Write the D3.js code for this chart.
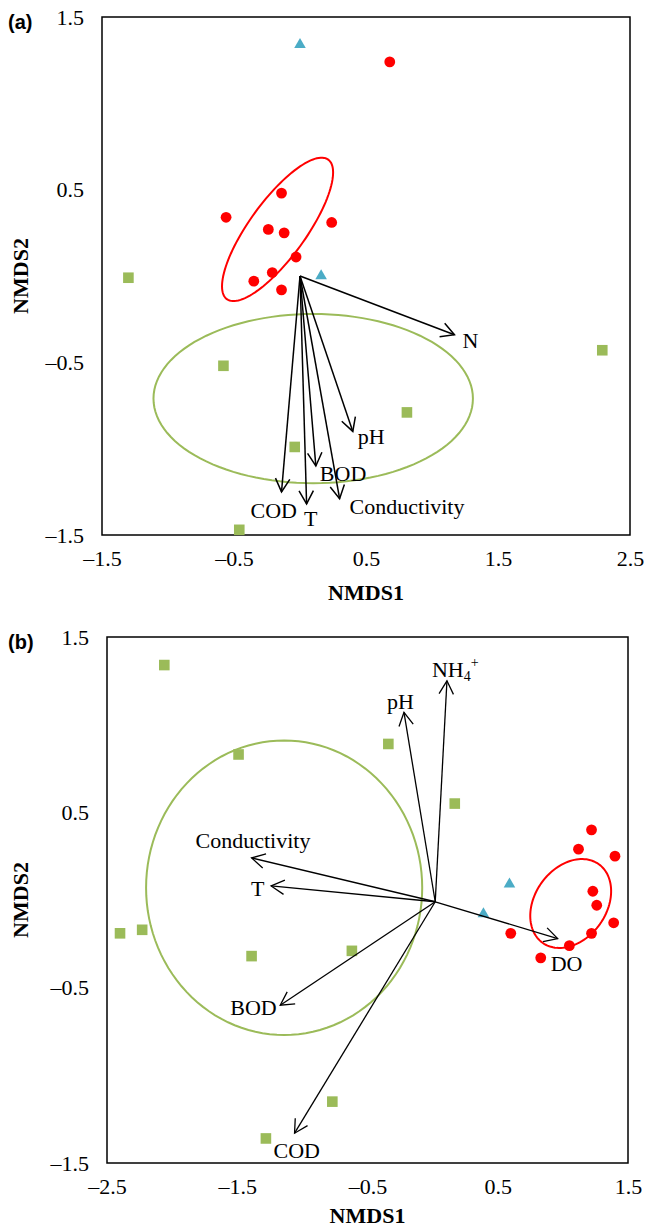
<!DOCTYPE html>
<html>
<head>
<meta charset="utf-8">
<script src="https://cdn.jsdelivr.net/npm/d3@7"></script>
<style>
  body { margin: 0; background: #fff; }
  svg text { font-family: "Liberation Serif", "Times New Roman", serif; fill: #000; }
</style>
</head>
<body>
<div id="chart"></div>
<script>
// ---- panel (a) data ----
const aRed   = [[0.68,1.24],[-0.14,0.48],[-0.56,0.34],[-0.24,0.27],[-0.12,0.25],
                [0.24,0.31],[-0.03,0.11],[-0.21,0.02],[-0.35,-0.03],[-0.14,-0.08]];
const aGreen = [[-1.30,-0.01],[-0.58,-0.52],[-0.04,-0.99],[-0.46,-1.47],[0.81,-0.79],[2.29,-0.43]];
const aBlue  = [[0.00,1.34],[0.16,0.00]];
const aVars  = ["N", "pH", "BOD", "Conductivity", "T", "COD"];
const aVecX  = [1.17, 0.40, 0.12, 0.30, 0.05, -0.14];
const aVecY  = [-0.34, -0.90, -1.10, -1.29, -1.32, -1.25];
const aOrigin = [0.0, 0.0];
// ellipses: centre + two semi-axis vectors (data units)
const aRedEllipse   = [-0.17, 0.27, 0.384, 0.404, 0.172, -0.096];
const aGreenEllipse = [0.10, -0.71, 1.21, 0, 0, 0.49];
const aXTicks = [-1.5, -0.5, 0.5, 1.5, 2.5];
const aYTicks = [-1.5, -0.5, 0.5, 1.5];

// ---- panel (b) data ----
const bRed   = [[1.22,0.40],[1.12,0.29],[1.40,0.25],[1.23,0.05],[1.26,-0.03],
                [1.39,-0.13],[1.22,-0.19],[1.05,-0.26],[0.60,-0.19],[0.83,-0.33]];
const bGreen = [[-2.06,1.34],[-1.49,0.83],[-0.34,0.89],[0.17,0.55],[-2.40,-0.19],
                [-2.23,-0.17],[-1.39,-0.32],[-0.62,-0.29],[-0.77,-1.15],[-1.28,-1.36]];
const bBlue  = [[0.59,0.09],[0.39,-0.08]];
const bVars  = ["NH4+", "pH", "Conductivity", "T", "BOD", "COD", "DO"];
const bVecX  = [0.11, -0.22, -1.39, -1.24, -1.17, -1.06, 0.96];
const bVecY  = [1.25, 1.07, 0.24, 0.08, -0.60, -1.33, -0.22];
const bOrigin = [0.02, -0.01];
const bRedEllipse   = [1.06, -0.02, 0.216, 0.224, 0.223, -0.119];
const bGreenEllipse = [-1.14, 0.07, 1.06, 0, 0, 0.84];
const bXTicks = [-2.5, -1.5, -0.5, 0.5, 1.5];
const bYTicks = [-1.5, -0.5, 0.5, 1.5];

// label offsets from arrow tips (px)
const aLabelPos = {"N":[8,13], "pH":[5,12.5], "BOD":[4,15], "Conductivity":[10,15], "T":[-2.5,22], "COD":[-31,26]};
const bLabelPos = {"NH4+":[-15,-4], "pH":[-17,-3], "Conductivity":[-56,-10], "T":[-20,10],
                   "BOD":[-50,10], "COD":[-21,25], "DO":[-7,32]};

const width = 646, height = 1229;
const svg = d3.select("#chart").append("svg")
    .attr("width", width)
    .attr("height", height);

const RED = "#ff0000", GREEN = "#9bbb59", BLUE = "#4bacc6";

function fmt(d) {
    return (d < 0 ? "\u2013" : "") + Math.abs(d).toFixed(1);
}

function drawPanel(p) {
    const x = d3.scaleLinear().domain(p.xDomain).range([p.left, p.right]);
    const y = d3.scaleLinear().domain(p.yDomain).range([p.bottom, p.top]);
    const g = svg.append("g");

    // axes (labels only, no tick marks)
    const xa = g.append("g")
        .attr("transform", `translate(0,${p.bottom})`)
        .call(d3.axisBottom(x).tickValues(p.xTicks).tickSize(0).tickPadding(15).tickFormat(fmt));
    const ya = g.append("g")
        .attr("transform", `translate(${p.left},0)`)
        .call(d3.axisLeft(y).tickValues(p.yTicks).tickSize(0).tickPadding(18).tickFormat(fmt));
    [xa, ya].forEach(a => {
        a.select(".domain").remove();
        a.selectAll("text")
            .attr("fill", "#000")
            .style("font-family", "'Liberation Serif', serif")
            .style("font-size", "22px");
    });

    // frame
    g.append("rect")
        .attr("x", p.left).attr("y", p.top)
        .attr("width", p.right - p.left).attr("height", p.bottom - p.top)
        .attr("fill", "none").attr("stroke", "#000").attr("stroke-width", 1.5);

    // ellipses
    const ellLine = d3.line().x(d => x(d[0])).y(d => y(d[1])).curve(d3.curveLinearClosed);
    function ellipse(e, color) {
        const pts = d3.range(0, 120).map(i => {
            const t = i / 120 * 2 * Math.PI;
            return [e[0] + Math.cos(t) * e[2] + Math.sin(t) * e[4],
                    e[1] + Math.cos(t) * e[3] + Math.sin(t) * e[5]];
        });
        g.append("path").attr("d", ellLine(pts))
            .attr("fill", "none").attr("stroke", color).attr("stroke-width", 2);
    }
    ellipse(p.greenEllipse, GREEN);
    ellipse(p.redEllipse, RED);

    // points
    g.selectAll(".sq").data(p.green).join("rect")
        .attr("x", d => x(d[0]) - 5.3).attr("y", d => y(d[1]) - 5.3)
        .attr("width", 10.6).attr("height", 10.6)
        .attr("fill", GREEN);
    g.selectAll(".dot").data(p.red).join("circle")
        .attr("cx", d => x(d[0])).attr("cy", d => y(d[1])).attr("r", 5.4)
        .attr("fill", RED);
    g.selectAll(".tri").data(p.blue).join("path")
        .attr("d", d3.symbol().type(d3.symbolTriangle).size(58))
        .attr("transform", d => `translate(${x(d[0])},${y(d[1])})`)
        .attr("fill", BLUE);

    // arrows
    const ox = x(p.origin[0]), oy = y(p.origin[1]);
    p.vars.forEach((v, i) => {
        const tx = x(p.vecX[i]), ty = y(p.vecY[i]);
        const ang = Math.atan2(ty - oy, tx - ox);
        const hl = 15, ha = 0.5;
        g.append("line")
            .attr("x1", ox).attr("y1", oy).attr("x2", tx).attr("y2", ty)
            .attr("stroke", "#000").attr("stroke-width", p.arrowWidth);
        g.append("path")
            .attr("d", `M${tx - hl * Math.cos(ang - ha)},${ty - hl * Math.sin(ang - ha)}L${tx},${ty}L${tx - hl * Math.cos(ang + ha)},${ty - hl * Math.sin(ang + ha)}`)
            .attr("fill", "none").attr("stroke", "#000").attr("stroke-width", p.arrowWidth);

        const off = p.labelPos[v];
        const t = g.append("text")
            .attr("x", tx + off[0]).attr("y", ty + off[1])
            .style("font-size", "22px");
        if (v === "NH4+") {
            t.append("tspan").text("NH");
            t.append("tspan").attr("dy", 4).style("font-size", "14px").text("4");
            t.append("tspan").attr("dy", -14).style("font-size", "14px").text("+");
        } else {
            t.text(v);
        }
    });

    // axis titles
    g.append("text")
        .attr("x", (p.left + p.right) / 2).attr("y", p.bottom + p.xTitleGap)
        .attr("text-anchor", "middle")
        .style("font-size", "22px").style("font-weight", "bold")
        .text("NMDS1");
    g.append("text")
        .attr("transform", `translate(28,${(p.top + p.bottom) / 2}) rotate(-90)`)
        .attr("text-anchor", "middle")
        .style("font-size", "22px").style("font-weight", "bold")
        .text("NMDS2");

    // panel tag
    g.append("text")
        .attr("x", 8).attr("y", p.top + 12)
        .style("font-family", "'Liberation Sans', Arial, sans-serif")
        .style("font-size", "20px").style("font-weight", "bold")
        .text(p.tag);
}

drawPanel({
    tag: "(a)", left: 102, right: 630, top: 17, bottom: 535,
    xDomain: [-1.5, 2.5], yDomain: [-1.5, 1.5], xTicks: aXTicks, yTicks: aYTicks,
    red: aRed, green: aGreen, blue: aBlue,
    vars: aVars, vecX: aVecX, vecY: aVecY, origin: aOrigin, labelPos: aLabelPos,
    redEllipse: aRedEllipse, greenEllipse: aGreenEllipse,
    arrowWidth: 1.5, xTitleGap: 65
});

drawPanel({
    tag: "(b)", left: 107, right: 628, top: 637, bottom: 1163,
    xDomain: [-2.5, 1.5], yDomain: [-1.5, 1.5], xTicks: bXTicks, yTicks: bYTicks,
    red: bRed, green: bGreen, blue: bBlue,
    vars: bVars, vecX: bVecX, vecY: bVecY, origin: bOrigin, labelPos: bLabelPos,
    redEllipse: bRedEllipse, greenEllipse: bGreenEllipse,
    arrowWidth: 1.3, xTitleGap: 60
});
</script>
</body>
</html>
